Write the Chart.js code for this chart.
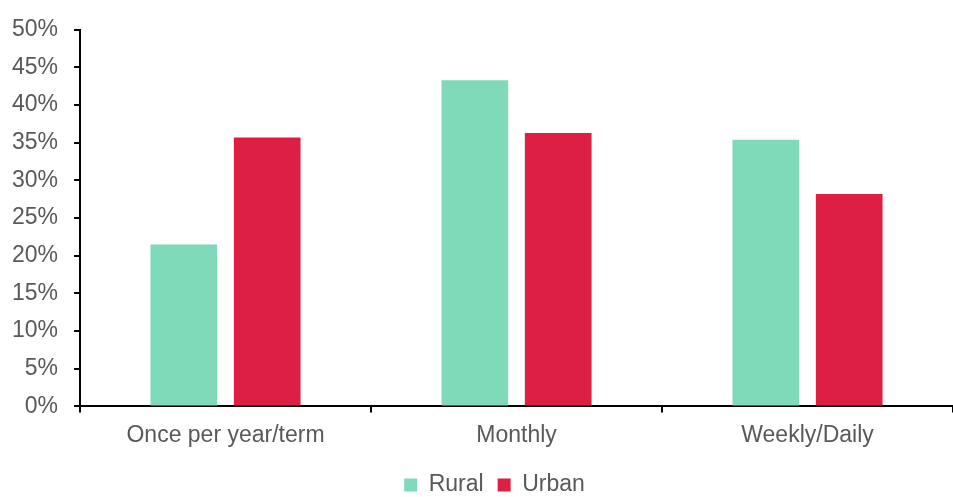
<!DOCTYPE html>
<html>
<head>
<meta charset="utf-8">
<script src="https://cdn.jsdelivr.net/npm/chart.js@4/dist/chart.umd.min.js"></script>
<style>
  html, body { margin: 0; padding: 0; background: #fff; }
  #wrap { width: 953px; height: 497px; position: relative; }
</style>
</head>
<body>
<div id="wrap"><canvas id="freqChart"></canvas></div>
<script>
// frequency categories and share of respondents per group (%)
const categories = ["Once per year/term", "Monthly", "Weekly/Daily"];
const rural = [21.5, 43.3, 35.4];
const urban = [35.7, 36.3, 28.2];
const yTicks = [0, 5, 10, 15, 20, 25, 30, 35, 40, 45, 50];

const textGrey = "#595959";
Chart.defaults.font.family = "'Liberation Sans', Arial, sans-serif";
Chart.defaults.color = textGrey;

// place the legend row near the bottom edge, slightly right of centre
const legendShift = {
   id: "legendShift",
   afterUpdate(chart) {
      const lg = chart.legend;
      const hb = lg.legendHitBoxes[0];
      if (!hb) return;
      const dy = 485 - (hb.top + hb.height / 2);
      lg.top += dy;
      lg.bottom += dy;
      lg.left += 15;
      lg.right += 15;
   },
};

const ctx = document.getElementById("freqChart").getContext("2d");
new Chart(ctx, {
   type: "bar",
   data: {
      labels: categories,
      datasets: [
         { label: "Rural", data: rural, backgroundColor: "#7fdaba" },
         { label: "Urban", data: urban, backgroundColor: "#dc1f42" },
      ],
   },
   options: {
      responsive: true,
      maintainAspectRatio: false,
      animation: false,
      categoryPercentage: 0.573,
      barPercentage: 0.8,
      layout: { padding: { top: 23, right: 0, left: 6, bottom: 0 } },
      scales: {
         x: {
            grid: {
               display: true,
               offset: true,
               drawOnChartArea: false,
               drawTicks: true,
               tickLength: 6,
               color: "#000",
               lineWidth: 2,
            },
            border: { display: true, color: "#000", width: 2 },
            ticks: { font: { size: 23 }, color: textGrey, padding: 9, maxRotation: 0 },
         },
         y: {
            min: 0,
            max: 50,
            afterBuildTicks: (axis) => {
               axis.ticks = yTicks.map((v) => ({ value: v }));
            },
            afterFit: (axis) => {
               // tighter box, labels keep their gap from the tick marks
               axis.width -= 10;
               axis._computeLabelArea = () => undefined;
            },
            grid: {
               display: true,
               drawOnChartArea: false,
               drawTicks: true,
               tickLength: 6,
               color: "#000",
               lineWidth: 2,
            },
            border: { display: true, color: "#000", width: 2 },
            ticks: {
               font: { size: 23 },
               color: textGrey,
               padding: 16,
               callback: (v) => v + "%",
            },
         },
      },
      plugins: {
         legend: {
            position: "bottom",
            maxHeight: 39,
            labels: {
               boxWidth: 13,
               boxHeight: 13,
               padding: 14,
               font: { size: 23 },
               color: textGrey,
            },
         },
         tooltip: { enabled: false },
      },
   },
   plugins: [legendShift],
});
</script>
</body>
</html>
